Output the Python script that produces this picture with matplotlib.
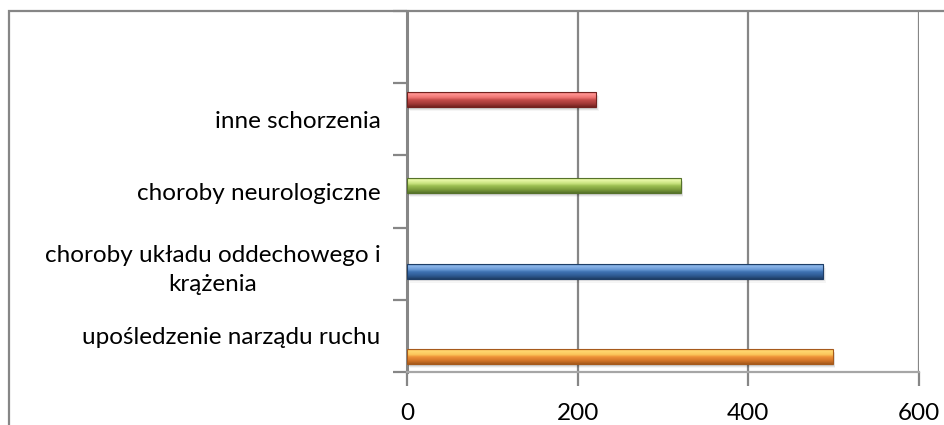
import matplotlib
matplotlib.use("Agg")
import matplotlib.pyplot as plt
import numpy as np
from matplotlib.colors import LinearSegmentedColormap
from matplotlib.patches import Rectangle

# ---- data ----
categories = ["upośledzenie narządu ruchu",
              "choroby układu oddechowego i\nkrążenia",
              "choroby neurologiczne",
              "inne schorzenia",
              ""]
bar_names = ["upośledzenie narządu ruchu", "choroby układu oddechowego i krążenia",
             "choroby neurologiczne", "inne schorzenia"]
values = [499, 488, 321, 222]
x_ticks = [0, 200, 400, 600]

# gradient stops (top -> bottom) for each bar
grad_colors = [
    ["#F5A040", "#FFD870", "#FCC75C", "#EE9238", "#D27428", "#A65A1C"],
    ["#3A70B0", "#8FB8EA", "#6A9AD6", "#3F72B2", "#2E5A92", "#1F3E66"],
    ["#B0D466", "#E9F8A8", "#C8E37E", "#9CBF52", "#7A9A3A", "#56722A"],
    ["#D45352", "#FF9492", "#EE7472", "#C44C4A", "#A03836", "#72221F"],
]

W, H = 944, 425
fig = plt.figure(figsize=(W / 100, H / 100), dpi=100)
plt.rcParams['font.family'] = ['Lato', 'DejaVu Sans']

gray = "#868686"

# outer chart frame (cut off at right and bottom)
fig.patches.append(Rectangle((9 / W, -0.1), 1.2, (H - 11) / H + 0.1,
                             transform=fig.transFigure, fill=False,
                             edgecolor=gray, linewidth=1.6, zorder=0))

left, right, top, bottom = 407, 919, 11, 372
ax = fig.add_axes([left / W, (H - bottom) / H, (right - left) / W, (bottom - top) / H])

# category axis: 5 bands
ax.set_ylim(0, len(categories))
ax.set_yticks(np.arange(len(categories)) + 0.5)
ax.set_yticklabels(categories, fontsize=17.5, multialignment='center', linespacing=1.5)
ax.tick_params(axis='y', which='major', length=0, pad=19)
ax.set_yticks(np.arange(len(categories) + 1), minor=True)
ax.tick_params(axis='y', which='minor', length=10, width=1.6, color=gray)

ax.set_xlim(x_ticks[0], x_ticks[-1])
ax.set_xticks(x_ticks)
ax.set_xticklabels([str(t) for t in x_ticks], fontsize=17.5)
ax.tick_params(axis='x', length=10, width=1.6, color=gray, pad=12)
ax.grid(axis='x', color=gray, linewidth=1.6)
ax.set_axisbelow(True)
for s in ["top", "right"]:
    ax.spines[s].set_visible(False)
ax.spines["left"].set_color(gray)
ax.spines["left"].set_linewidth(2.2)
ax.spines["bottom"].set_color("#A6A6A6")
ax.spines["bottom"].set_linewidth(1.6)

# bars on a secondary category scale
ax2 = ax.twinx()
ax2.set_ylim(-0.175, 4.035)
ax2.set_yticks([])
for s in ax2.spines.values():
    s.set_visible(False)
pos = np.arange(len(values))
bh = 0.175
bars = ax2.barh(pos, values, height=bh, color="none", edgecolor="none", zorder=3)
for i, p in enumerate(bars.patches):
    x0, y0 = p.get_x(), p.get_y()
    w, h = p.get_width(), p.get_height()
    # soft shadow
    for k, a in enumerate([0.10, 0.07, 0.04]):
        ax2.add_patch(Rectangle((x0 + 1 + k, y0 - 0.02 - k * 0.012), w, h,
                                facecolor="black", alpha=a, edgecolor="none", zorder=2))
    cmap = LinearSegmentedColormap.from_list(f"g{i}", list(zip([0, 0.18, 0.4, 0.55, 0.8, 1.0],
                                                                grad_colors[i])))
    grad = np.linspace(0, 1, 64).reshape(-1, 1)
    im = ax2.imshow(grad, extent=[x0, x0 + w, y0, y0 + h], origin='upper', aspect='auto',
                    cmap=cmap, zorder=4, interpolation='bilinear')
    clip = Rectangle((x0, y0), w, h, transform=ax2.transData, facecolor="none")
    ax2.add_patch(clip)
    im.set_clip_path(clip)
    ax2.add_patch(Rectangle((x0, y0), w, h, facecolor="none",
                            edgecolor=grad_colors[i][-1], linewidth=0.8, zorder=5))
ax2.set_xlim(x_ticks[0], x_ticks[-1])
ax2.set_ylim(-0.175, 4.035)

fig.savefig("out.png", dpi=100)
